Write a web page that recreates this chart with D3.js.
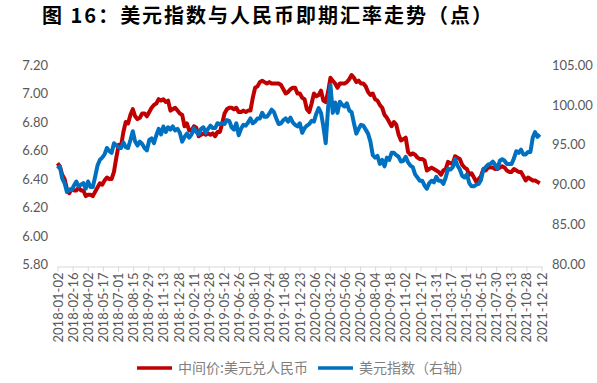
<!DOCTYPE html>
<html><head><meta charset="utf-8">
<script src="https://cdn.jsdelivr.net/npm/d3@7"></script>
<style>body{margin:0;background:#fff}svg{display:block}</style>
</head><body>
<svg id="c" width="597" height="383"></svg>
<script>
// ---- data ----
const titleText = "图 16：美元指数与人民币即期汇率走势（点）";
const seriesNames = ["中间价:美元兑人民币", "美元指数（右轴）"];
const firstDate = "2018-01-02";   // weekly observations (every Tuesday)
const stepDays = 7;
const usdCny = [
 6.51,6.49,6.43,6.40,6.33, 6.30,6.33,6.32,6.32, 6.34,6.32,6.32,6.28, 6.29,6.29,6.28,6.31, 6.34,6.37,6.36,6.39,6.41, 6.40,6.40,6.45,6.55, 6.64,6.63,6.73,6.80,6.79, 6.85,6.89,6.84,6.82, 6.83,6.86,6.86,6.84, 6.87,6.90,6.92,6.93,6.96, 6.95,6.96,6.94,6.95, 6.88,6.89,6.90,6.88,
 6.86,6.85,6.77,6.79,6.74, 6.74,6.77,6.76,6.70, 6.71,6.72,6.71,6.72, 6.71,6.72,6.70,6.73,6.73, 6.79,6.86,6.89,6.90, 6.90,6.89,6.90,6.87, 6.87,6.88,6.87,6.88,6.88, 6.97,7.04,7.05,7.08, 7.09,7.08,7.07,7.08, 7.07,7.07,7.07,7.07,7.06, 7.03,7.00,7.01,7.03, 7.04,7.04,7.00,7.00,6.97,
 6.96,6.89,6.87,6.93, 7.00,6.98,6.99,7.02, 6.95,6.94,7.01,7.11,7.09, 7.07,7.04,7.07,7.07, 7.07,7.08,7.10,7.13, 7.11,7.08,7.09,7.07,7.07, 7.05,7.01,6.99,7.00, 6.96,6.95,6.92,6.90, 6.85,6.83,6.80,6.77,6.80, 6.78,6.71,6.67,6.68, 6.69,6.59,6.57,6.58, 6.57,6.55,6.54,6.54,6.53,
 6.46,6.47,6.48,6.47, 6.46,6.45,6.43,6.46, 6.47,6.52,6.51,6.51,6.56, 6.55,6.54,6.50,6.48, 6.47,6.43,6.44,6.41, 6.38,6.40,6.42,6.47,6.46, 6.48,6.48,6.48,6.47, 6.47,6.48,6.49,6.48,6.46, 6.45,6.45,6.47,6.46, 6.45,6.45,6.42,6.39, 6.41,6.40,6.39,6.39,6.38, 6.37
];
const dollarIndex = [
 92.0,92.3,90.8,90.2,89.1, 89.4,89.3,89.9,90.4, 89.8,90.0,90.2,89.5, 90.4,89.7,89.7,91.0, 92.4,93.1,93.4,93.8,94.6, 94.2,94.0,95.2,94.9, 94.7,94.6,95.3,94.7,94.6, 95.6,96.7,95.4,94.9, 95.4,95.1,94.6,94.3, 95.6,95.8,95.2,96.2,97.0, 96.3,97.3,96.6,97.2, 96.9,97.3,96.8,97.0,
 96.5,95.4,96.0,96.4,95.9, 96.3,97.1,96.6,96.3, 97.0,97.2,96.5,97.0, 97.4,97.1,97.1,97.7,97.6, 97.7,97.6,98.1,98.0, 97.2,96.9,97.7,96.2, 97.0,97.5,97.4,97.8,98.3, 97.7,97.9,98.3,98.3, 99.0,98.5,98.5,98.9, 99.4,99.1,98.3,97.6,97.7, 98.1,98.3,97.9,98.4, 97.8,97.5,97.3,97.7,96.5,
 97.1,97.4,97.6,98.0, 97.9,98.9,99.6,99.0, 97.3,95.2,99.6,102.5,99.0, 100.3,99.0,100.4,100.0, 99.8,100.2,99.3,99.1, 97.7,96.4,97.0,97.5,97.4, 96.9,96.4,95.4,93.7, 93.4,93.6,92.6,93.1, 92.3,93.4,93.1,94.0,94.0, 93.7,93.5,92.9,93.0, 93.5,92.8,92.4,92.2, 91.3,90.9,90.5,90.5,89.9,
 89.5,90.2,90.5,90.3, 91.0,90.5,90.5,90.1, 90.9,92.0,91.9,92.2,93.2, 92.4,91.9,91.1,90.9, 91.3,90.2,89.8,89.8, 90.0,90.1,90.6,91.9,92.2, 92.5,92.6,92.9,92.5, 92.0,93.0,93.2,93.0,92.6, 92.6,92.6,93.3,94.2, 94.0,94.4,93.8,93.8, 94.1,94.1,95.9,96.6,96.0, 96.3
];
const xTickLabels = ["2018-01-02","2018-02-16","2018-04-02","2018-05-17","2018-07-01","2018-08-15","2018-09-29","2018-11-13","2018-12-28","2019-02-11","2019-03-28","2019-05-12","2019-06-26","2019-08-10","2019-09-24","2019-11-08","2019-12-23","2020-02-06","2020-03-22","2020-05-06","2020-06-20","2020-08-04","2020-09-18","2020-11-02","2020-12-17","2021-01-31","2021-03-17","2021-05-01","2021-06-15","2021-07-30","2021-09-13","2021-10-28","2021-12-12"];
const leftTicks = [5.8,6.0,6.2,6.4,6.6,6.8,7.0,7.2];
const rightTicks = [80,85,90,95,100,105];
const colors = ["#C00000", "#0070C0"];

// ---- chart ----
const svg = d3.select("#c");
const parse = d3.utcParse("%Y-%m-%d");
const t0 = parse(firstDate);
const dates = usdCny.map((_, i) => d3.utcDay.offset(t0, i * stepDays));
const tickDates = xTickLabels.map(parse);

const x = d3.scaleUtc().domain([tickDates[0], tickDates[tickDates.length - 1]]).range([57.5, 541.5]);
const yL = d3.scaleLinear().domain([5.8, 7.2]).range([264.5, 65]);
const yR = d3.scaleLinear().domain([80, 105]).range([264.5, 65]);

svg.append("text").attr("x", 42).attr("y", 23)
  .attr("textLength", 450).attr("lengthAdjust", "spacing")
  .style("font-family", "'Noto Sans CJK SC', sans-serif").style("font-weight", "700")
  .style("font-size", "20px").attr("fill", "#000").text(titleText);

const axisFont = "Lato, 'Liberation Sans', sans-serif";

// left axis
const gl = svg.append("g").attr("transform", "translate(48,0)")
  .call(d3.axisLeft(yL).tickValues(leftTicks).tickFormat(d3.format(".2f")).tickSize(0).tickPadding(0));
gl.select(".domain").remove();
gl.selectAll("text").style("font-family", axisFont).style("font-size", "13px").attr("fill", "#595959");

// right axis
const gr = svg.append("g").attr("transform", "translate(552,0)")
  .call(d3.axisRight(yR).tickValues(rightTicks).tickFormat(d3.format(".2f")).tickSize(0).tickPadding(0));
gr.select(".domain").remove();
gr.selectAll("text").style("font-family", axisFont).style("font-size", "13px").attr("fill", "#595959");

// x axis
const gx = svg.append("g").attr("transform", "translate(0,266.5)")
  .call(d3.axisBottom(x).tickValues(tickDates).tickFormat((d, i) => xTickLabels[i]).tickSize(5).tickSizeOuter(0).tickPadding(4));
gx.select(".domain").attr("stroke", "#d9d9d9");
gx.selectAll(".tick line").attr("stroke", "#d9d9d9");
gx.selectAll("text").style("font-family", axisFont).style("font-size", "13px").attr("fill", "#595959")
  .attr("transform", "rotate(-90)").attr("text-anchor", "end").attr("dy", "0.35em").attr("x", -6).attr("y", 0);

// lines
const lineL = d3.line().x((d, i) => x(dates[i])).y(d => yL(d));
const lineR = d3.line().x((d, i) => x(dates[i])).y(d => yR(d));
svg.append("path").datum(usdCny).attr("d", lineL).attr("fill", "none")
  .attr("stroke", colors[0]).attr("stroke-width", 4).attr("stroke-linejoin", "round");
svg.append("path").datum(dollarIndex).attr("d", lineR).attr("fill", "none")
  .attr("stroke", colors[1]).attr("stroke-width", 4).attr("stroke-linejoin", "round");

// legend
const legendItems = [{x: 137, name: seriesNames[0], c: colors[0]}, {x: 318, name: seriesNames[1], c: colors[1]}];
const lg = svg.append("g").attr("transform", "translate(0,368)");
legendItems.forEach(it => {
  lg.append("line").attr("x1", it.x).attr("x2", it.x + 35).attr("y1", 0).attr("y2", 0)
    .attr("stroke", it.c).attr("stroke-width", 3.5);
  lg.append("text").attr("x", it.x + 41).attr("y", 0).attr("dy", "0.35em")
    .style("font-family", "'Noto Sans CJK SC', sans-serif").style("font-size", "14px")
    .attr("fill", "#7f7f7f").text(it.name);
});
</script>
</body></html>
